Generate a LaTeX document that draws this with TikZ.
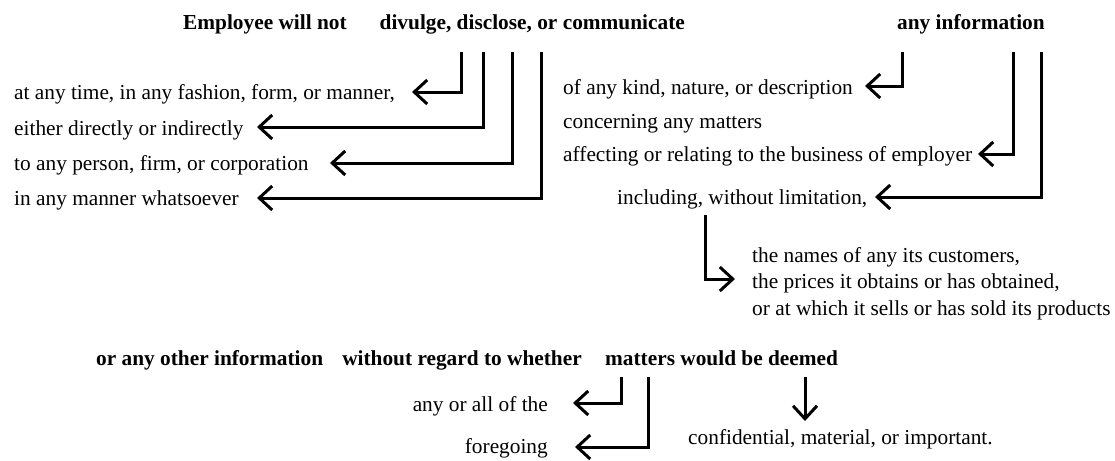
\documentclass[tikz,border=0pt]{standalone}
\usepackage{fontspec}
\setmainfont{Liberation Serif}
\usetikzlibrary{arrows.meta}
\begin{document}
\begin{tikzpicture}[x=1pt,y=-1pt,
  txt/.style={inner sep=0pt, yshift=-5pt, font=\fontsize{21.33}{25.6}\selectfont},
  btxt/.style={inner sep=0pt, yshift=-5pt, font=\fontsize{21.33}{25.6}\selectfont\bfseries},
  conn/.style={line width=3pt, line join=miter, -{Straight Barb[length=13pt,width=24pt]}}]
\fill[white] (0,0) rectangle (1115,457);
% titles
\node[btxt, anchor=mid west] (t1) at (183,22) {Employee will not};
\node[btxt, anchor=mid east] (t2) at (685,22) {divulge, disclose, or communicate};
\node[btxt, anchor=mid west] (t3) at (897,22) {any information};
% left column
\node[txt, anchor=mid west] (l1) at (14,92) {at any time, in any fashion, form, or manner,};
\node[txt, anchor=mid west] (l2) at (14,128) {either directly or indirectly};
\node[txt, anchor=mid west] (l3) at (14,163) {to any person, firm, or corporation};
\node[txt, anchor=mid west] (l4) at (14,198) {in any manner whatsoever};
% right column
\node[txt, anchor=mid west] (r1) at (563,87) {of any kind, nature, or description};
\node[txt, anchor=mid west] (r2) at (563,121) {concerning any matters};
\node[txt, anchor=mid west] (r3) at (563,154) {affecting or relating to the business of employer};
\node[txt, anchor=mid west] (r4) at (617,197) {including, without limitation,};
\node[txt, anchor=mid west] (n1) at (752,255) {the names of any its customers,};
\node[txt, anchor=mid west] (n2) at (752,281) {the prices it obtains or has obtained,};
\node[txt, anchor=mid west] (n3) at (752,308) {or at which it sells or has sold its products};
% bottom
\node[btxt, anchor=mid west] (b1) at (96,358) {or any other information};
\node[btxt, anchor=mid east] (b2) at (582,358) {without regard to whether};
\node[btxt, anchor=mid west] (b3) at (605,358) {matters would be deemed};
\node[txt, anchor=mid east] (c1) at (548,404) {any or all of the};
\node[txt, anchor=mid east] (c2) at (548,446) {foregoing};
\node[txt, anchor=mid west] (c3) at (688,437) {confidential, material, or important.};
% connector start and end points
\coordinate (s1) at (461,52);  \coordinate (e1) at (412,92);
\coordinate (s2) at (483,52);  \coordinate (e2) at (257,127);
\coordinate (s3) at (512,52);  \coordinate (e3) at (330,163);
\coordinate (s4) at (541,52);  \coordinate (e4) at (257,198);
\coordinate (s5) at (902,52);  \coordinate (e5) at (865,86);
\coordinate (s6) at (1013,52); \coordinate (e6) at (978,154);
\coordinate (s7) at (1041,52); \coordinate (e7) at (875,197);
\coordinate (s8) at (705,215); \coordinate (e8) at (735,279);
\coordinate (s9) at (621,377); \coordinate (e9) at (573,403);
\coordinate (s10) at (648,377); \coordinate (e10) at (575,447);
\coordinate (s11) at (805,377); \coordinate (e11) at (805,421);
\draw[conn] (s1) |- (e1);
\draw[conn] (s2) |- (e2);
\draw[conn] (s3) |- (e3);
\draw[conn] (s4) |- (e4);
\draw[conn] (s5) |- (e5);
\draw[conn] (s6) |- (e6);
\draw[conn] (s7) |- (e7);
\draw[conn] (s8) |- (e8);
\draw[conn] (s9) |- (e9);
\draw[conn] (s10) |- (e10);
\draw[conn] (s11) -- (e11);
\end{tikzpicture}
\end{document}
